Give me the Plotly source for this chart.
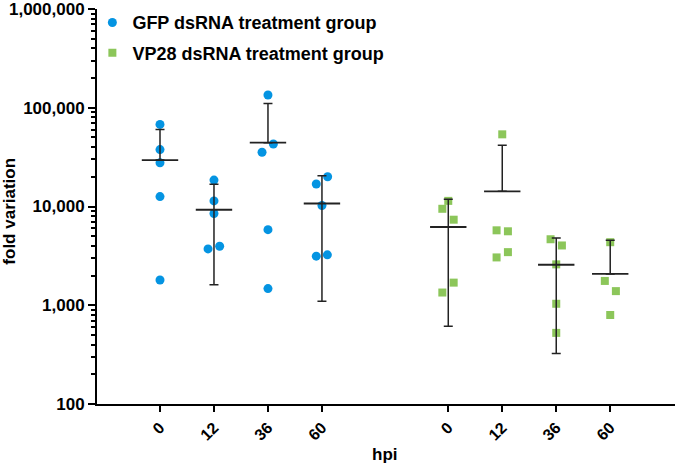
import plotly.graph_objects as go

# ---------------- data ----------------
hpi_labels = ["0", "12", "36", "60"]

# GFP dsRNA treatment group, individual values per time point
gfp_0h = [67800, 37700, 27700, 12600, 1800]
gfp_12h = [18500, 11400, 8500, 3720, 3960]
gfp_36h = [134500, 43000, 35400, 5830, 1475]
gfp_60h = [20000, 16900, 10240, 3143, 3240]

# VP28 dsRNA treatment group, individual values per time point
vp28_0h = [11400, 9480, 7350, 1695, 1345]
vp28_12h = [53800, 5740, 5610, 3050, 3450]
vp28_36h = [4660, 4030, 2594, 1035, 525]
vp28_60h = [4350, 1763, 1390, 797]

# group means and error-bar ends (None = bar not drawn)
gfp_mean = [29500, 9270, 44300, 10720]
gfp_err_hi = [60400, 16800, 110200, 20500]
gfp_err_lo = [None, 1610, None, 1100]

vp28_mean = [6200, 14250, 2570, 2075]
vp28_err_hi = [11840, 41700, 4800, 4550]
vp28_err_lo = [612, None, 325, None]

y_tickvals = [100, 1000, 10000, 100000, 1000000]
y_ticktext = ["100", "1,000", "10,000", "100,000", "1,000,000"]

# ---------------- layout helpers (positions / styles) ----------------
gfp_pos = [0, 1, 2, 3]
vp28_pos = [5.34, 6.34, 7.34, 8.34]

gfp_jitter = [
    [0, 0, 0, 0, 0],
    [0, 0, 0, -0.11, 0.105],
    [0, 0.1, -0.11, 0, 0],
    [0.105, -0.105, 0, -0.105, 0.1],
]
vp28_jitter = [
    [0, -0.11, 0.1, 0.1, -0.11],
    [0, -0.105, 0.105, -0.105, 0.105],
    [-0.105, 0.105, 0, 0, 0],
    [0, -0.1, 0.105, 0],
]

BLUE = "rgb(4,148,226)"
GREEN = "rgb(140,198,90)"
INK = "#222222"
FONT = "Liberation Sans, Arial, Helvetica, sans-serif"


def scatter_points(groups, pos, jitter):
    xs, ys = [], []
    for vals, p, jit in zip(groups, pos, jitter):
        for v, j in zip(vals, jit):
            xs.append(p + j)
            ys.append(v)
    return xs, ys


fig = go.Figure()

gx, gy = scatter_points([gfp_0h, gfp_12h, gfp_36h, gfp_60h], gfp_pos, gfp_jitter)
vx, vy = scatter_points([vp28_0h, vp28_12h, vp28_36h, vp28_60h], vp28_pos, vp28_jitter)

fig.add_trace(go.Scatter(
    x=gx, y=gy, mode="markers", name="GFP dsRNA treatment group",
    legendgroup="g", marker=dict(symbol="circle", size=9, color=BLUE),
))
fig.add_trace(go.Scatter(
    x=vx, y=vy, mode="markers", name="VP28 dsRNA treatment group",
    legendgroup="v", marker=dict(symbol="square", size=8, color=GREEN),
))


def mean_trace(pos, mean, hi, lo):
    plus = [h - m for h, m in zip(hi, mean)]
    minus = [(m - l) if l is not None else 0 for l, m in zip(lo, mean)]
    return go.Scatter(
        x=pos, y=mean, mode="markers", showlegend=False, hoverinfo="skip",
        marker=dict(symbol="line-ew-open", size=26, color=INK,
                    line=dict(color=INK, width=1.8)),
        error_y=dict(type="data", symmetric=False, array=plus,
                     arrayminus=minus, color=INK, thickness=1.5,
                     width=4.5),
    )


fig.add_trace(mean_trace(gfp_pos, gfp_mean, gfp_err_hi, gfp_err_lo))
fig.add_trace(mean_trace(vp28_pos, vp28_mean, vp28_err_hi, vp28_err_lo))

fig.update_layout(
    width=675, height=466,
    margin=dict(l=97, r=0, t=6, b=62),
    plot_bgcolor="white", paper_bgcolor="white",
    font=dict(family=FONT, color="black", weight="bold"),
    showlegend=True,
    legend=dict(
        x=-0.008, y=1.012, xanchor="left", yanchor="top",
        font=dict(family=FONT, size=18, color="black", weight="bold"),
        traceorder="grouped", tracegroupgap=4,
        bgcolor="rgba(0,0,0,0)", borderwidth=0,
    ),
    xaxis=dict(
        range=[-1.167, 9.54],
        tickmode="array", tickvals=gfp_pos + vp28_pos,
        ticktext=hpi_labels + hpi_labels, tickangle=-45,
        ticks="outside", ticklen=6, tickwidth=2, tickcolor="black",
        showline=True, linewidth=2, linecolor="black",
        showgrid=False, zeroline=False,
        tickfont=dict(family=FONT, size=16, color="black", weight="bold"),
    ),
    yaxis=dict(
        type="log", range=[1.9999, 6.0001],
        tickmode="array", tickvals=y_tickvals, ticktext=y_ticktext,
        ticklabeloverflow="allow",
        ticks="outside", ticklen=7, tickwidth=2, tickcolor="black",
        minor=dict(ticks="outside", ticklen=4, tickwidth=1.5,
                   tickcolor="black", dtick="D1", showgrid=False),
        showline=True, linewidth=2, linecolor="black",
        showgrid=False, zeroline=False,
        tickfont=dict(family=FONT, size=17, color="black", weight="bold"),
    ),
    annotations=[
        dict(text="fold variation", xref="paper", yref="paper",
             x=-0.1505, y=0.487, xanchor="center", yanchor="middle",
             textangle=-90, showarrow=False,
             font=dict(family=FONT, size=17, color="black", weight="bold")),
        dict(text="hpi", xref="paper", yref="paper",
             x=0.499, y=-0.128, xanchor="center", yanchor="middle",
             showarrow=False,
             font=dict(family=FONT, size=17, color="black", weight="bold")),
    ],
)

fig.write_html(
    "out.html",
    config={"displayModeBar": False},
    post_script="document.body.style.margin='0';"
                "document.body.style.overflow='hidden';",
)
